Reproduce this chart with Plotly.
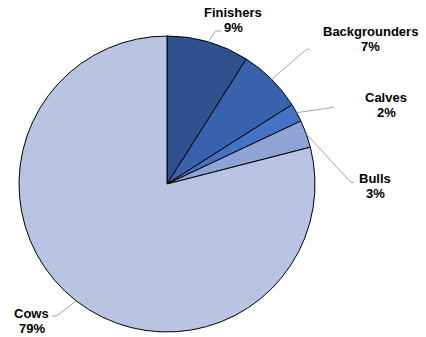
import math
import plotly.graph_objects as go

# Herd composition by animal class
categories = ["Finishers", "Backgrounders", "Calves", "Bulls", "Cows"]
shares = [9, 7, 2, 3, 79]
pct_labels = ["9%", "7%", "2%", "3%", "79%"]
colors = ["#2F528F", "#3862AC", "#4472C4", "#8FA3D5", "#B9C3E2"]

W, H = 426, 337
CX, CY, R = 167, 184, 148  # pie centre and radius in page pixels
LINE_GAP = 15  # vertical distance between name and percentage lines

# Label text centres and leader-line bends (page pixels)
label_centre = {
    "Finishers": (233, 19.5),
    "Backgrounders": (370, 38.5),
    "Calves": (386, 104.5),
    "Bulls": (375, 185.5),
    "Cows": (31.5, 321),
}
leader_path = {
    "Finishers": [(215.5, 31), (221, 31)],
    "Backgrounders": [(306.5, 49.3), (309.5, 49.3)],
    "Calves": [(334, 107.3)],
    "Bulls": [(351, 182.5), (354, 182.5)],
    "Cows": [(56.5, 316), (52, 316)],
}

fig = go.Figure()
fig.add_trace(go.Pie(
    labels=categories,
    values=shares,
    sort=False,
    direction="clockwise",
    rotation=0,
    textinfo="none",
    hoverinfo="label+percent",
    marker=dict(colors=colors, line=dict(color="#000000", width=1)),
    domain=dict(x=[(CX - R) / W, (CX + R) / W],
                y=[1 - (CY + R) / H, 1 - (CY - R) / H]),
    showlegend=False,
))

# transparent pixel-space axes used to place labels and leader lines
fig.add_trace(go.Scatter(x=[0, W], y=[0, H], mode="markers",
                         marker=dict(opacity=0), hoverinfo="skip", showlegend=False))

label_font = dict(family="Liberation Sans, Arial, sans-serif", size=13,
                  color="#000000", weight="bold")

total = sum(shares)
cum = 0
shapes = []
annotations = []
for name, val, pct in zip(categories, shares, pct_labels):
    mid = (cum + val / 2) / total * 2 * math.pi
    cum += val
    ex = CX + R * math.sin(mid)
    ey = CY - R * math.cos(mid)
    pts = [(ex, ey)] + leader_path[name]
    for (x0, y0), (x1, y1) in zip(pts[:-1], pts[1:]):
        shapes.append(dict(type="line", xref="x", yref="y", x0=x0, y0=y0, x1=x1, y1=y1,
                           line=dict(color="#A6A6A6", width=1)))
    lx, ly = label_centre[name]
    for text, dy in ((name, -LINE_GAP / 2), (pct, LINE_GAP / 2)):
        annotations.append(dict(
            x=lx, y=ly + dy, xref="x", yref="y", showarrow=False,
            text=text, font=label_font,
            xanchor="center", yanchor="middle",
        ))

fig.update_layout(
    width=W, height=H,
    margin=dict(l=0, r=0, t=0, b=0),
    paper_bgcolor="#FFFFFF",
    plot_bgcolor="rgba(0,0,0,0)",
    xaxis=dict(range=[0, W], visible=False, fixedrange=True, domain=[0, 1]),
    yaxis=dict(range=[H, 0], visible=False, fixedrange=True, domain=[0, 1]),
    shapes=shapes,
    annotations=annotations,
)

fig.write_html("out.html")
